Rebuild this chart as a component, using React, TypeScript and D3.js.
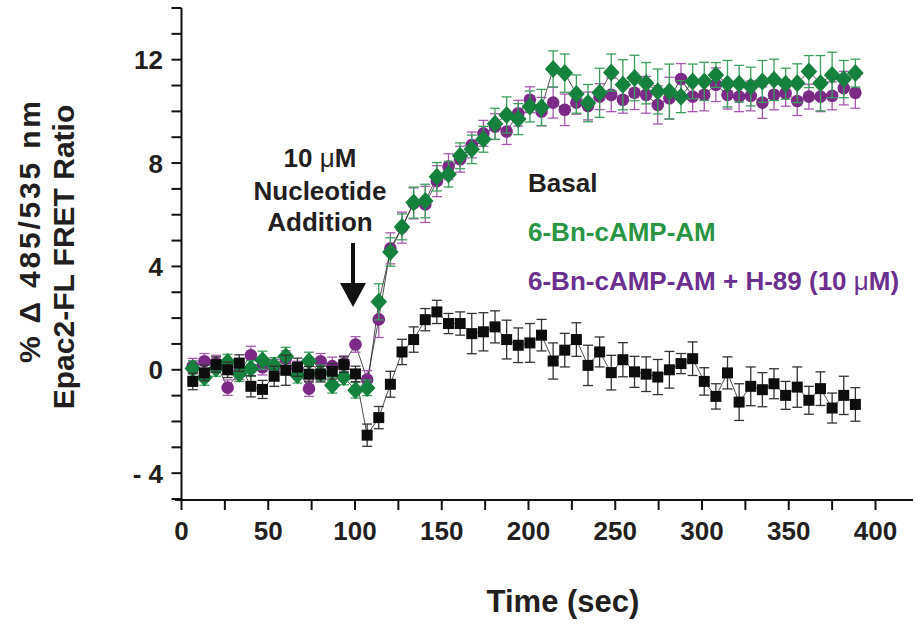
import React from "react";
import * as d3 from "d3";

const times = [6.5, 13.2, 19.9, 26.6, 33.3, 40.0, 46.7, 53.4, 60.1, 66.8, 73.5, 80.2, 86.9, 93.6, 100.3, 107.0, 113.7, 120.4, 127.1, 133.8, 140.5, 147.2, 153.9, 160.6, 167.3, 174.0, 180.7, 187.4, 194.1, 200.8, 207.5, 214.2, 220.9, 227.6, 234.3, 241.0, 247.7, 254.4, 261.1, 267.8, 274.5, 281.2, 287.9, 294.6, 301.3, 308.0, 314.7, 321.4, 328.1, 334.8, 341.5, 348.2, 354.9, 361.6, 368.3, 375.0, 381.7, 388.4];

const basal = [-0.45, -0.12, 0.2, 0.0, 0.26, -0.64, -0.76, -0.25, -0.02, 0.1, -0.17, -0.17, -0.06, 0.2, -0.16, -2.53, -1.85, -0.56, 0.69, 1.17, 1.94, 2.24, 1.79, 1.79, 1.4, 1.47, 1.66, 1.17, 0.95, 1.04, 1.34, 0.34, 0.76, 1.17, 0.17, 0.69, -0.11, 0.39, -0.08, -0.17, -0.28, 0.0, 0.24, 0.43, -0.45, -1.03, -0.12, -1.25, -0.64, -0.77, -0.54, -0.99, -0.67, -1.18, -0.73, -1.48, -0.99, -1.34];
const basalErr = [0.32, 0.3, 0.3, 0.3, 0.32, 0.41, 0.35, 0.39, 0.58, 0.35, 0.3, 0.3, 0.3, 0.3, 0.3, 0.43, 0.43, 0.5, 0.49, 0.49, 0.43, 0.45, 0.39, 0.45, 0.78, 0.74, 0.62, 0.75, 0.67, 0.75, 0.61, 0.7, 0.65, 0.65, 0.78, 0.58, 0.67, 0.66, 0.6, 0.67, 0.68, 0.71, 0.39, 0.65, 0.53, 0.49, 0.62, 0.71, 0.75, 0.66, 0.58, 0.54, 0.78, 0.54, 0.65, 0.58, 0.74, 0.65];

const bnCamp = [0.05, -0.3, 0.05, 0.3, -0.15, 0.05, 0.37, 0.17, 0.52, -0.21, 0.33, -0.12, -0.6, -0.28, -0.79, -0.7, 2.63, 4.56, 5.53, 6.47, 6.53, 7.47, 7.57, 8.28, 8.53, 8.92, 9.52, 9.86, 9.7, 10.19, 10.15, 11.64, 11.48, 10.67, 10.32, 10.72, 11.5, 11.03, 11.29, 11.09, 10.77, 10.77, 10.57, 11.16, 11.16, 11.41, 11.07, 11.07, 10.96, 11.16, 11.22, 11.07, 11.09, 11.54, 11.09, 11.41, 11.25, 11.48];
const bnCampErr = [0.3, 0.3, 0.3, 0.3, 0.3, 0.3, 0.35, 0.3, 0.35, 0.3, 0.35, 0.3, 0.3, 0.3, 0.3, 0.3, 0.7, 0.55, 0.5, 0.6, 0.65, 0.55, 0.5, 0.5, 0.55, 0.5, 0.6, 0.7, 0.6, 0.6, 0.7, 0.7, 0.74, 0.74, 0.72, 0.95, 0.72, 0.97, 0.88, 0.8, 0.87, 1.06, 0.62, 0.67, 0.74, 0.48, 0.9, 0.71, 0.75, 0.81, 0.8, 0.6, 0.75, 0.62, 1.07, 0.88, 0.72, 0.54];

const bnCampH89 = [0.14, 0.33, 0.26, -0.69, -0.08, 0.56, 0.1, 0.1, 0.43, 0.03, -0.73, 0.33, 0.14, 0.24, 0.98, -0.38, 1.95, 4.7, 5.5, 6.44, 6.4, 7.3, 7.86, 8.15, 8.7, 9.15, 9.41, 9.22, 9.93, 10.45, 9.99, 10.34, 10.06, 10.34, 10.21, 10.57, 10.64, 10.45, 10.72, 10.64, 10.25, 10.51, 11.25, 10.57, 10.64, 11.03, 10.64, 10.57, 10.6, 10.34, 10.64, 10.7, 10.4, 10.57, 10.57, 10.6, 10.9, 10.72];
const bnCampH89Err = [0.3, 0.3, 0.3, 0.3, 0.3, 0.35, 0.3, 0.3, 0.3, 0.3, 0.3, 0.3, 0.35, 0.3, 0.3, 0.35, 0.7, 0.6, 0.6, 0.6, 0.7, 0.6, 0.5, 0.5, 0.5, 0.5, 0.5, 0.5, 0.5, 0.5, 0.55, 0.6, 0.61, 0.45, 0.54, 0.5, 0.65, 0.52, 0.65, 0.71, 0.74, 0.81, 0.6, 0.58, 0.62, 0.65, 0.55, 0.58, 0.58, 0.61, 0.58, 0.5, 0.56, 0.48, 0.58, 0.54, 0.65, 0.6];

const xMajorTicks = [0, 50, 100, 150, 200, 250, 300, 350, 400];
const xMinorTicks = [25, 75, 125, 175, 225, 275, 325, 375];
const yLabelTicks = [12, 8, 4, 0, -4];
const yTickLabels = ["12", "8", "4", "0", "- 4"];
const yAllTicks = d3.range(-5, 15, 1);

const FONT = "'Liberation Sans', Arial, Helvetica, sans-serif";

export default function App() {
  const x = d3.scaleLinear().domain([0, 400]).range([181.5, 875.5]);
  const y = d3.scaleLinear().domain([-5, 14]).range([499, 8]);
  const axisLeft = 181.5;
  const axisBottom = 500;
  const tickLen = 10;

  const line = d3
    .line<number>()
    .x((_, i) => x(times[i]))
    .y((d) => y(d));

  const errorBars = (vals: number[], errs: number[], color: string, key: string) =>
    vals.map((v, i) => {
      const cx = x(times[i]);
      const top = y(v + errs[i]);
      const bot = y(v - errs[i]);
      return (
        <g key={key + i} stroke={color} strokeWidth={1.3}>
          <line x1={cx} x2={cx} y1={top} y2={bot} />
          <line x1={cx - 5} x2={cx + 5} y1={top} y2={top} />
          <line x1={cx - 5} x2={cx + 5} y1={bot} y2={bot} />
        </g>
      );
    });

  const purpleFill = "#7b2b86";
  const greenFill = "#16803f";
  const blackFill = "#0d0d0d";

  return (
    <svg
      width={917}
      height={624}
      style={{ position: "absolute", left: 0, top: 0, background: "#fff" }}
      fontFamily={FONT}
    >
      <rect x={0} y={0} width={917} height={624} fill="#fff" />

      {/* Axes */}
      <line x1={175} x2={913} y1={axisBottom} y2={axisBottom} stroke="#111" strokeWidth={2} />
      <line x1={axisLeft} x2={axisLeft} y1={y(14)} y2={axisBottom} stroke="#111" strokeWidth={2} />
      {xMajorTicks.concat(xMinorTicks).map((t) => (
        <line key={"xt" + t} x1={x(t)} x2={x(t)} y1={axisBottom} y2={axisBottom + tickLen} stroke="#111" strokeWidth={2} />
      ))}
      {yAllTicks.map((t) => (
        <line key={"yt" + t} x1={axisLeft - tickLen} x2={axisLeft} y1={y(t)} y2={y(t)} stroke="#111" strokeWidth={2} />
      ))}
      {xMajorTicks.map((t) => (
        <text key={"xl" + t} x={x(t)} y={540} textAnchor="middle" fontSize={26} fontWeight="bold" fill="#231f20">
          {t}
        </text>
      ))}
      {yLabelTicks.map((t, i) => (
        <text key={"yl" + t} x={163} y={y(t) + 9.5} textAnchor="end" fontSize={26} fontWeight="bold" fill="#231f20">
          {yTickLabels[i]}
        </text>
      ))}

      {/* Axis titles */}
      <text x={563} y={612} textAnchor="middle" fontSize={31} fontWeight="bold" fill="#231f20">
        Time (sec)
      </text>
      <text
        transform="translate(40,232) rotate(-90)"
        textAnchor="middle"
        fontSize={30}
        fontWeight="bold"
        fill="#231f20"
        textLength={262}
        lengthAdjust="spacing"
      >
        % Δ 485/535 nm
      </text>
      <text transform="translate(74,257) rotate(-90)" textAnchor="middle" fontSize={30} fontWeight="bold" fill="#231f20">
        Epac2-FL FRET Ratio
      </text>

      {/* Connecting lines */}
      <path d={line(bnCampH89) || ""} fill="none" stroke="#222" strokeWidth={0.8} />
      <path d={line(bnCamp) || ""} fill="none" stroke="#222" strokeWidth={0.8} />
      <path d={line(basal) || ""} fill="none" stroke="#222" strokeWidth={0.8} />

      {/* Purple series */}
      {errorBars(bnCampH89, bnCampH89Err, "#a45aac", "pe")}
      {bnCampH89.map((v, i) => (
        <circle key={"pc" + i} cx={x(times[i])} cy={y(v)} r={6.3} fill={purpleFill} />
      ))}

      {/* Green series */}
      {errorBars(bnCamp, bnCampErr, "#3c9e5c", "ge")}
      {bnCamp.map((v, i) => {
        const cx = x(times[i]);
        const cy = y(v);
        return (
          <path
            key={"gd" + i}
            d={`M${cx},${cy - 9}L${cx + 8.3},${cy}L${cx},${cy + 9}L${cx - 8.3},${cy}Z`}
            fill={greenFill}
          />
        );
      })}

      {/* Basal series */}
      {errorBars(basal, basalErr, "#333", "be")}
      {basal.map((v, i) => (
        <rect key={"bs" + i} x={x(times[i]) - 5.5} y={y(v) - 5.5} width={11} height={11} fill={blackFill} />
      ))}

      {/* Annotation */}
      <g fontSize={26} fontWeight="bold" fill="#231f20" textAnchor="middle">
        <text x={320} y={167}>
          10 <tspan fontWeight="normal">μ</tspan>M
        </text>
        <text x={320} y={200}>Nucleotide</text>
        <text x={320} y={231}>Addition</text>
      </g>
      <line x1={353} x2={353} y1={243} y2={290} stroke="#111" strokeWidth={4} />
      <path d="M340,283 L366,283 L353,307 Z" fill="#111" />

      {/* Legend */}
      <g fontSize={26} fontWeight="bold">
        <text x={528} y={192} fill="#231f20">Basal</text>
        <text x={528} y={241} fill="#2a9545">6-Bn-cAMP-AM</text>
        <text x={528} y={290} fill="#6a2f8f">
          6-Bn-cAMP-AM + H-89 (10 <tspan fontWeight="normal">μ</tspan>M)
        </text>
      </g>
    </svg>
  );
}
